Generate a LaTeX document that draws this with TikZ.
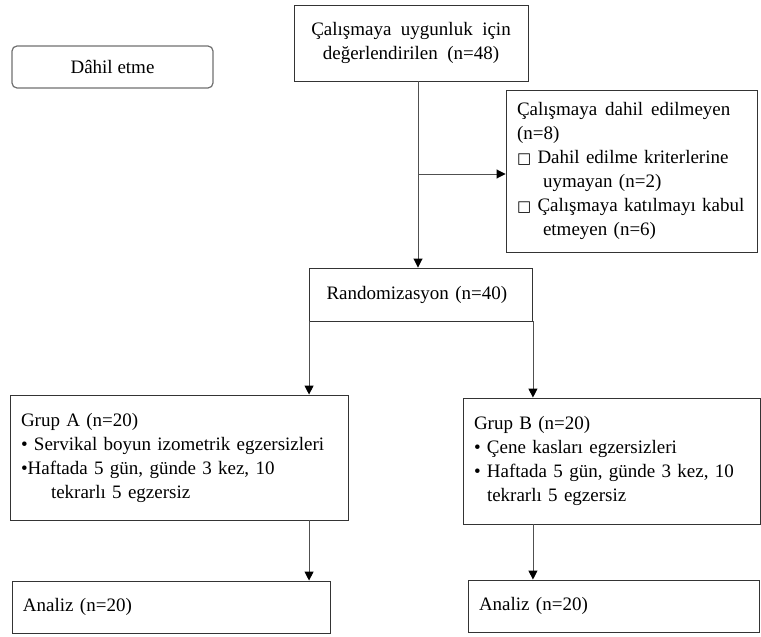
\documentclass[tikz,border=0pt]{standalone}
\usepackage{fontspec}
\setmainfont{Liberation Serif}
\newfontfamily\boxfont{DejaVu Sans}
\usetikzlibrary{arrows.meta}
\definecolor{FrameGray}{RGB}{52,52,52}
\definecolor{SoftGray}{RGB}{112,112,112}
\definecolor{LineGray}{RGB}{80,80,80}
\newcommand{\tofu}{{\boxfont\fontsize{15}{15}\selectfont □}}
\tikzset{
  flow/.style={-{Triangle[length=9pt,width=9pt,color=black]},line width=0.9pt,draw=LineGray},
  box/.style={draw=FrameGray,line width=0.9pt,fill=white,align=center,
    font=\fontsize{19}{24}\selectfont},
  leftbox/.style={box,align=left,inner xsep=11pt,text width=#1},
  labelbox/.style={draw=SoftGray,line width=1.2pt,rounded corners=5pt,
    align=center,font=\fontsize{19}{24}\selectfont}
}

\begin{document}
\begin{tikzpicture}[x=1pt,y=-1pt]
  \useasboundingbox (0,0) rectangle (761,637);
  \node[box,minimum width=234pt,minimum height=76pt] (elig) at (411,43) {Çalışmaya \ uygunluk \ için\\değerlendirilen \ (n=48)};
  \node[labelbox,minimum width=201pt,minimum height=42pt] (dahil) at (112.5,67) {Dâhil etme};
  \node[leftbox=229pt,minimum height=162pt] (excl) at (631.5,171) {Çalışmaya\hspace{8pt}dahil\hspace{8pt}edilmeyen\\(n=8)\\\tofu{} Dahil edilme kriterlerine\\\hspace*{26pt}uymayan (n=2)\\\tofu{} Çalışmaya katılmayı kabul\\\hspace*{26pt}etmeyen (n=6)};
  \node[leftbox=189pt,inner xsep=17pt,minimum height=53pt] (rand) at (421,294.5) {Randomizasyon (n=40)};
  \node[leftbox=316pt,minimum height=125pt] (grpA) at (179,457.5) {Grup A (n=20)\\• Servikal boyun izometrik egzersizleri\\•Haftada 5 gün, günde 3 kez, 10\\\hspace*{30pt}tekrarlı 5 egzersiz};
  \node[leftbox=275pt,minimum height=126pt] (grpB) at (611.5,461) {Grup B (n=20)\\• Çene kasları egzersizleri\\• Haftada 5 gün, günde 3 kez, 10\\\hspace*{13pt}tekrarlı 5 egzersiz};
  \node[leftbox=296pt,minimum height=52pt] (anA) at (171,607) {Analiz (n=20)};
  \node[leftbox=269pt,minimum height=52pt] (anB) at (613.5,606) {Analiz (n=20)};
  \coordinate (trunk) at (418,0);
  \coordinate (split) at (418,174);
  \draw[flow] (elig.south -| trunk) -- (rand.north -| trunk);
  \draw[flow] (split) -- (split -| excl.west);
  \draw[flow] (rand.south west) -- (grpA.north -| rand.south west);
  \draw[flow] (rand.south east) -- (grpB.north -| rand.south east);
  \draw[flow] (grpA.south -| rand.south west) -- (anA.north -| rand.south west);
  \draw[flow] (grpB.south -| rand.south east) -- (anB.north -| rand.south east);
\end{tikzpicture}
\end{document}
